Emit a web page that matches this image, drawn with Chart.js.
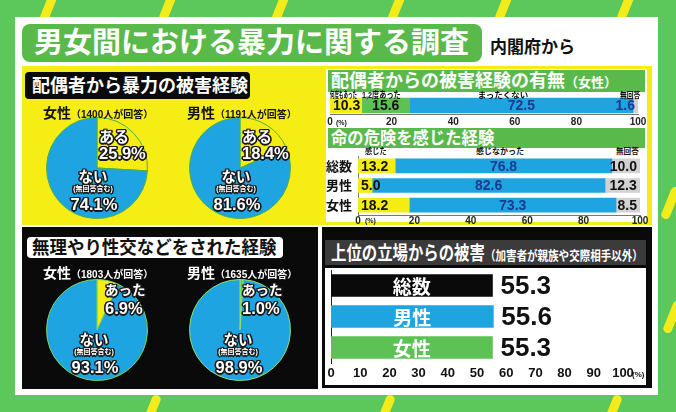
<!DOCTYPE html>
<html>
<head>
<meta charset="utf-8">
<script src="https://cdn.jsdelivr.net/npm/chart.js"></script>
<style>
  * { box-sizing: border-box; }
  body {
    margin: 0; width: 676px; height: 412px; overflow: hidden; position: relative;
    background: #5cc75a;
    font-family: "Liberation Sans", "Noto Sans CJK JP", sans-serif; font-weight: bold;
  }
  .box { position: absolute; }
  .t { position: absolute; white-space: nowrap; line-height: 1; transform-origin: left center; }
  .stripe { position: absolute; width: 9px; height: 34px; background: #f3ec1a; border-radius: 5px; transform: rotate(22deg); }
  .out { color: #fff; text-shadow: -1.3px -1.3px 0 #1a1a1a, 1.3px -1.3px 0 #1a1a1a, -1.3px 1.3px 0 #1a1a1a, 1.3px 1.3px 0 #1a1a1a,
         0 1.5px 0 #1a1a1a, 0 -1.5px 0 #1a1a1a, 1.5px 0 0 #1a1a1a, -1.5px 0 0 #1a1a1a; }
  canvas { position: absolute; }
</style>
</head>
<body>
<canvas id="pie-sf" width="102" height="102" style="left:46px;top:117px"></canvas>
<canvas id="pie-sm" width="102" height="102" style="left:189px;top:117px"></canvas>
<canvas id="pie-ff" width="102" height="102" style="left:46px;top:279px"></canvas>
<canvas id="pie-fm" width="102" height="102" style="left:189px;top:279px"></canvas>
<canvas id="freq-chart" width="330" height="30" style="left:320px;top:97px"></canvas>
<canvas id="danger-chart" width="322" height="73" style="left:326px;top:156px"></canvas>
<canvas id="superior-chart" width="321" height="111" style="left:325px;top:270px"></canvas>
<script>
// ---- data ----
const spouseAnswers = ['ある', 'ない'];
const spouseFemale = [25.9, 74.1];
const spouseMale = [18.4, 81.6];
const spouseN = [1400, 1191];

const forcedAnswers = ['あった', 'ない'];
const forcedFemale = [6.9, 93.1];
const forcedMale = [1.0, 98.9];
const forcedN = [1803, 1635];

const freqCategories = ['何度もあった', '1,2度あった', 'まったくない', '無回答'];
const freqValues = [10.3, 15.6, 72.5, 1.6];

const dangerRows = ['総数', '男性', '女性'];
const dangerCategories = ['感じた', '感じなかった', '無回答'];
const dangerFelt = [13.2, 5.0, 18.2];
const dangerNotFelt = [76.8, 82.6, 73.3];
const dangerNoAnswer = [10.0, 12.3, 8.5];

const superiorRows = ['総数', '男性', '女性'];
const superiorValues = [55.3, 55.6, 55.3];

const pctTicks = [0, 20, 40, 60, 80, 100];
const superiorTicks = [0, 10, 20, 30, 40, 50, 60, 70, 80, 90, 100];

// colours
const YELLOW = '#f4ec12';
const GREEN = '#5cc254';
const BLUE = '#1ea4e0';
const GREY = '#d2d2d2';
const NAVY = '#1d3a8c';

Chart.defaults.animation = false;
Chart.defaults.font.family = '"Liberation Sans", "Noto Sans CJK JP", sans-serif';
Chart.defaults.plugins.legend.display = false;
Chart.defaults.plugins.tooltip.enabled = false;

// ---- helpers for the poster layout ----
function addBox(x, y, w, h, bg, radius) {
    const d = document.createElement('div');
    d.className = 'box';
    Object.assign(d.style, { left: x + 'px', top: y + 'px', width: w + 'px', height: h + 'px', background: bg, borderRadius: (radius || 0) + 'px' });
    document.body.insertBefore(d, document.body.firstChild);
    return d;
}

function addText(html, x, cy, size, opts = {}) {
    const d = document.createElement('div');
    d.className = 't' + (opts.cls ? ' ' + opts.cls : '');
    d.innerHTML = html;
    d.style.left = x + 'px';
    d.style.top = (cy - size / 2) + 'px';
    d.style.fontSize = size + 'px';
    if (!opts.cls) d.style.color = opts.color || '#111';
    let tf = '';
    if (opts.center) { tf += 'translateX(-50%) '; d.style.transformOrigin = 'center'; }
    if (opts.sx) tf += 'scaleX(' + opts.sx + ')';
    if (tf) d.style.transform = tf;
    document.body.appendChild(d);
    return d;
}

// backgrounds (inserted at the front, so add from top layer down)
addBox(325, 268, 321, 117, '#fff');
addBox(325, 240, 321, 25, '#3b3b3b');
addBox(322, 227, 330, 161, '#0a0a0a');
addBox(27, 237, 256, 21, '#fff', 4);
addBox(22, 227, 296, 162, '#0a0a0a');
addBox(328, 128, 317, 20, '#5ab94b');
addBox(328, 70, 317, 22, '#5ab94b');
addBox(326, 69, 321, 153, '#fff');
addBox(25, 72, 225, 27, '#0a0a0a', 4);
addBox(22, 66, 630, 159, '#f5ed14');
addBox(22, 24, 460, 38, '#5ab94b', 8);
addBox(15, 17, 643, 378, '#fff');

// yellow strokes on the green frame
[[45, -12], [164, -12], [277, -12], [393, -12], [500, -12], [622, -12],
 [147, 394], [381, 394], [608, 394], [666, 186], [668, 300]].forEach(([x, y]) => {
    const s = document.createElement('div');
    s.className = 'stripe';
    s.style.left = x + 'px';
    s.style.top = y + 'px';
    document.body.insertBefore(s, document.body.firstChild);
});

// titles
addText('男女間における暴力に関する調査', 34, 43, 29, { color: '#fff' });
addText('内閣府から', 490, 47, 17);
addText('配偶者から暴力の被害経験', 32, 86, 18, { color: '#fff' });
addText('無理やり性交などをされた経験', 32, 248, 18, { color: '#111', sx: 0.97 });
addText('配偶者からの被害経験の有無<span style="font-size:13px">（女性）</span>', 331, 81, 18, { color: '#fff' });
addText('命の危険を感じた経験', 331, 138, 17, { color: '#fff', sx: 0.96 });
addText('上位の立場からの被害<span style="font-size:13px">（加害者が親族や交際相手以外）</span>', 331, 253, 19, { color: '#fff', sx: 0.81 });

// respondent counts
function respondent(sex, n, x, cy, color) {
    addText(sex + '<span style="font-size:10px">（' + n + '人が回答）</span>', x, cy, 14, { color: color });
}
respondent('女性', spouseN[0], 43, 113, '#111');
respondent('男性', spouseN[1], 187, 113, '#111');
respondent('女性', forcedN[0], 43, 273, '#fff');
respondent('男性', forcedN[1], 187, 273, '#fff');

// pie labels
function pieLabels(answers, values, yesX, yesY, noX, noY, yesSize) {
    addText(answers[0], yesX, yesY, yesSize, { cls: 'out' });
    addText(values[0].toFixed(1) + '%', yesX, yesY + 17, 16.5, { cls: 'out' });
    addText(answers[1], noX, noY, 14.5, { cls: 'out', center: true });
    addText('(無回答含む)', noX, noY + 11, 7, { cls: 'out', center: true });
    addText(values[1].toFixed(1) + '%', noX + 1, noY + 27, 16.5, { cls: 'out', center: true });
}
pieLabels(spouseAnswers, spouseFemale, 99, 136, 93, 177, 15);
pieLabels(spouseAnswers, spouseMale, 242, 136, 236, 177, 15);
pieLabels(forcedAnswers, forcedFemale, 105, 291, 94, 340, 13.5);
pieLabels(forcedAnswers, forcedMale, 242, 291, 238, 340, 13.5);

// category captions over the stacked bars
addText(freqCategories[0], 330, 95, 9, { sx: 0.5 });
addText(freqCategories[1], 362, 95, 9, { sx: 0.8 });
addText(freqCategories[2], 503, 95, 8.5, { center: true });
addText(freqCategories[3], 620, 95, 8.5, { sx: 0.8 });
addText(dangerCategories[0], 365, 152, 8, { sx: 0.9 });
addText(dangerCategories[1], 500, 152, 8, { center: true });
addText(dangerCategories[2], 616, 152, 8, { sx: 0.95 });
addText('(%)', 336, 122, 7);
addText('(%)', 365, 220, 7);
addText('(%)', 632, 375, 8);

// ---- pies ----
function makePie(id, labels, values, colors, border) {
    return new Chart(document.getElementById(id), {
        type: 'pie',
        data: {
            labels: labels,
            datasets: [{ data: values, backgroundColor: colors, borderColor: border, borderWidth: 1 }]
        },
        options: { responsive: false, layout: { padding: 0 } }
    });
}
makePie('pie-sf', spouseAnswers, spouseFemale, [YELLOW, BLUE], '#4caf50');
makePie('pie-sm', spouseAnswers, spouseMale, [YELLOW, BLUE], '#4caf50');
makePie('pie-ff', forcedAnswers, forcedFemale, [YELLOW, BLUE], '#7fd45a');
makePie('pie-fm', forcedAnswers, forcedMale, [GREEN, BLUE], '#8fe06a');

// ---- value labels inside stacked segments ----
const segmentValues = {
    id: 'segmentValues',
    afterDatasetsDraw(chart) {
        const ctx = chart.ctx;
        chart.data.datasets.forEach((ds, i) => {
            if (!ds.valueAlign) return;
            chart.getDatasetMeta(i).data.forEach((bar, j) => {
                const { x, base, y } = bar.getProps(['x', 'base', 'y'], true);
                ctx.save();
                ctx.font = 'bold 14px "Liberation Sans"';
                ctx.fillStyle = ds.valueColor;
                ctx.textBaseline = 'middle';
                let tx;
                if (ds.valueAlign === 'start') { ctx.textAlign = 'left'; tx = base + 3; }
                else if (ds.valueAlign === 'end') { ctx.textAlign = 'right'; tx = x - 3; }
                else { ctx.textAlign = 'center'; tx = (x + base) / 2; }
                ctx.fillText(ds.data[j].toFixed(1), tx, y + 1);
                ctx.restore();
            });
        });
    }
};

// keep axes from shrinking the plot area for their edge labels
function noEdgePadding(s) {
    s.paddingTop = 0; s.paddingBottom = 0; s.paddingLeft = 0; s.paddingRight = 0;
}

function pctAxis(ticks, height, padding, fontSize, showBorder) {
    return {
        stacked: true, min: 0, max: 100,
        afterBuildTicks: s => { s.ticks = ticks.map(v => ({ value: v })); },
        afterFit: s => { s.height = height; noEdgePadding(s); },
        ticks: { color: '#222', padding: padding, maxRotation: 0, autoSkip: false, font: { size: fontSize, weight: 'bold' } },
        grid: { display: false, drawTicks: false },
        border: { display: showBorder, color: '#777', width: 1 }
    };
}

// 配偶者からの被害経験の有無（女性）
const freqColors = [YELLOW, GREEN, BLUE, GREY];
const freqAlign = ['start', 'center', 'center', 'end'];
const freqTextColors = ['#111', '#111', NAVY, NAVY];
new Chart(document.getElementById('freq-chart'), {
    type: 'bar',
    data: {
        labels: [''],
        datasets: freqValues.map((v, i) => ({
            label: freqCategories[i], data: [v], backgroundColor: freqColors[i], barThickness: 15,
            valueAlign: freqAlign[i], valueColor: freqTextColors[i]
        }))
    },
    options: {
        indexAxis: 'y', responsive: false,
        layout: { padding: { left: 10, right: 12, top: 0, bottom: 0 } },
        scales: {
            x: pctAxis(pctTicks, 13, 2, 10, true),
            y: { stacked: true, display: false }
        }
    },
    plugins: [segmentValues]
});

// 命の危険を感じた経験
new Chart(document.getElementById('danger-chart'), {
    type: 'bar',
    data: {
        labels: dangerRows,
        datasets: [
            { label: dangerCategories[0], data: dangerFelt, backgroundColor: YELLOW, barThickness: 14, valueAlign: 'start', valueColor: '#111' },
            { label: dangerCategories[1], data: dangerNotFelt, backgroundColor: BLUE, barThickness: 14, valueAlign: 'center', valueColor: NAVY },
            { label: dangerCategories[2], data: dangerNoAnswer, backgroundColor: GREY, barThickness: 14, valueAlign: 'end', valueColor: '#111' }
        ]
    },
    options: {
        indexAxis: 'y', responsive: false,
        layout: { padding: { left: 0, right: 8, top: 0, bottom: 0 } },
        scales: {
            x: pctAxis(pctTicks, 14, 0, 10, true),
            y: {
                stacked: true,
                afterFit: s => { s.width = 32; noEdgePadding(s); },
                ticks: { color: '#111', padding: 6, font: { size: 13, weight: 'bold', family: '"Noto Sans CJK JP"' } },
                grid: { display: false, drawTicks: false },
                border: { display: true, color: '#777' }
            }
        }
    },
    plugins: [segmentValues]
});

// 上位の立場からの被害
const superiorColors = ['#0a0a0a', BLUE, GREEN];
const superiorLabels = {
    id: 'superiorLabels',
    afterDatasetsDraw(chart) {
        const ctx = chart.ctx;
        chart.getDatasetMeta(0).data.forEach((bar, j) => {
            const { x, base, y } = bar.getProps(['x', 'base', 'y'], true);
            ctx.save();
            ctx.textBaseline = 'middle';
            ctx.textAlign = 'center';
            ctx.fillStyle = '#fff';
            ctx.font = 'bold 19px "Noto Sans CJK JP"';
            ctx.fillText(superiorRows[j], (x + base) / 2, y + 1);
            ctx.textAlign = 'left';
            ctx.fillStyle = '#111';
            ctx.font = 'bold 26px "Liberation Sans"';
            ctx.fillText(superiorValues[j].toFixed(1), x + 8, y + 1);
            ctx.restore();
        });
    }
};
new Chart(document.getElementById('superior-chart'), {
    type: 'bar',
    data: {
        labels: superiorRows,
        datasets: [{ data: superiorValues, backgroundColor: superiorColors, barThickness: 22 }]
    },
    options: {
        indexAxis: 'y', responsive: false,
        layout: { padding: { left: 6, right: 23, top: 0, bottom: 0 } },
        scales: {
            x: {
                min: 0, max: 100,
                afterBuildTicks: s => { s.ticks = superiorTicks.map(v => ({ value: v })); },
                afterFit: s => { s.height = 18; noEdgePadding(s); },
                ticks: { color: '#111', padding: 3, maxRotation: 0, autoSkip: false, font: { size: 13, weight: 'bold' } },
                grid: { display: false, drawTicks: false },
                border: { display: false }
            },
            y: {
                afterFit: s => { s.width = 0; noEdgePadding(s); },
                ticks: { display: false },
                grid: { display: false, drawTicks: false },
                border: { display: true, color: '#222', width: 1 }
            }
        }
    },
    plugins: [superiorLabels]
});
</script>
</body>
</html>
